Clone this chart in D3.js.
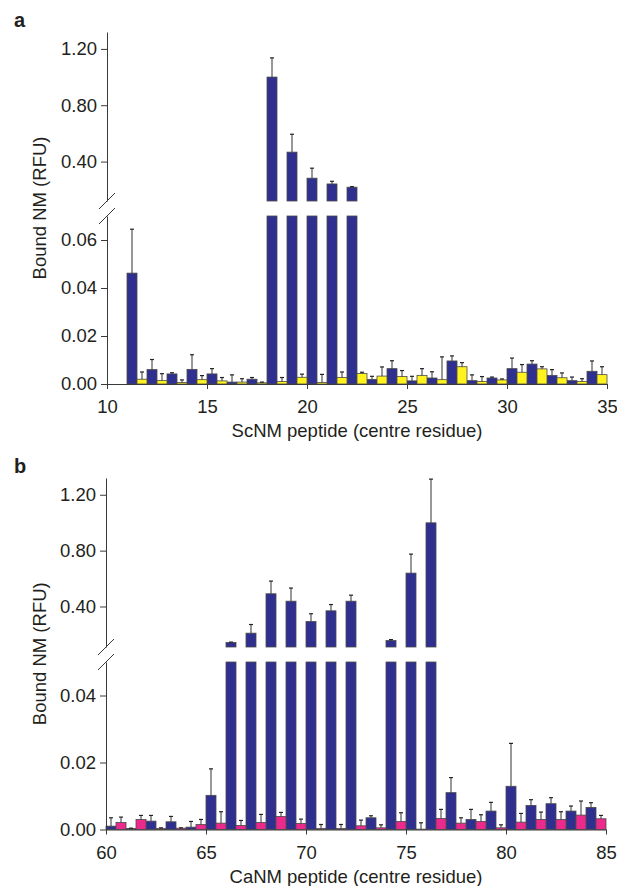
<!DOCTYPE html>
<html>
<head>
<meta charset="utf-8">
<script src="https://cdn.jsdelivr.net/npm/d3@7"></script>
<style>
body { margin: 0; background: #fff; }
text { font-family: "Liberation Sans", Arial, sans-serif; fill: #231f20; }
</style>
</head>
<body>
<div id="chart-area"></div>
<script>
// ---- panel a: ScNM peptides ----
var scResidues = [11, 12, 13, 14, 15, 16, 17, 18, 19, 20, 21, 22, 23, 24, 25, 26, 27, 28, 29, 30, 31, 32, 33, 34];
var scBlue = [0.0462, 0.0060, 0.0042, 0.0061, 0.0042, 0.0008, 0.0020, 1.00, 0.467, 0.282, 0.241, 0.218,
              0.0019, 0.0064, 0.0013, 0.0025, 0.0096, 0.0014, 0.0025, 0.0064, 0.0083, 0.0036, 0.0014, 0.0053];
var scBlueErr = [0.0183, 0.0042, 0.0005, 0.0061, 0.0022, 0.0030, 0.0007, 0.136, 0.127, 0.071, 0.019, 0.004,
                 0.0013, 0.0033, 0.0019, 0.0026, 0.0021, 0.0024, 0.0004, 0.0044, 0.0014, 0.0024, 0.0015, 0.0043];
var scYellow = [0.0020, 0.0014, 0.0006, 0.0018, 0.0013, 0.0008, 0.0005, 0.0010, 0.0028, 0.0006, 0.0027, 0.0044,
                0.0033, 0.0031, 0.0036, 0.0018, 0.0072, 0.0010, 0.0017, 0.0049, 0.0063, 0.0026, 0.0010, 0.0039];
var scYellowErr = [0.0030, 0.0029, 0.0011, 0.0017, 0.0014, 0.0014, 0.0003, 0.0017, 0.0013, 0.0034, 0.0023, 0.0005,
                   0.0038, 0.0025, 0.0028, 0.0095, 0.0017, 0.0021, 0.0004, 0.0032, 0.0009, 0.0020, 0.0012, 0.0033];
var scXTicks = [10, 15, 20, 25, 30, 35];
var scLowTicks = [0, 0.02, 0.04, 0.06];

// ---- panel b: CaNM peptides ----
var caResidues = [60, 61, 62, 63, 64, 65, 66, 67, 68, 69, 70, 71, 72, 73, 74, 75, 76, 77, 78, 79, 80, 81, 82, 83, 84];
var caBlue = [0.0010, 0.0003, 0.0025, 0.0023, 0.0007, 0.0102, 0.142, 0.209, 0.491, 0.438, 0.292, 0.369, 0.438,
              0.0035, 0.156, 0.639, 0.999, 0.0110, 0.0030, 0.0055, 0.0129, 0.0072, 0.0077, 0.0055, 0.0066];
var caBlueErr = [0.0025, 0.0001, 0.0017, 0.0016, 0.0017, 0.0079, 0.003, 0.062, 0.091, 0.094, 0.056, 0.045, 0.043,
                 0.0006, 0.007, 0.136, 0.313, 0.0045, 0.0030, 0.0026, 0.0128, 0.0017, 0.0018, 0.0015, 0.0014];
var caPink = [0.0021, 0.0030, 0.0003, 0.0004, 0.0015, 0.0019, 0.0012, 0.0021, 0.0039, 0.0018, 0.0003, 0.0003, 0.0011,
              0.0005, 0.0024, 0.0001, 0.0033, 0.0019, 0.0024, 0.0005, 0.0022, 0.0030, 0.0030, 0.0043, 0.0032];
var caPinkErr = [0.0016, 0.0012, 0.0002, 0.0001, 0.0015, 0.0034, 0.0015, 0.0024, 0.0012, 0.0013, 0.0012, 0.0012, 0.0017,
                 0.0009, 0.0026, 0.0019, 0.0027, 0.0016, 0.0020, 0.0009, 0.0026, 0.0022, 0.0023, 0.0042, 0.0010];
var caXTicks = [60, 65, 70, 75, 80, 85];
var caLowTicks = [0, 0.02, 0.04];

var highTicks = [0.40, 0.80, 1.20];
var yLabel = "Bound NM (RFU)";

var width = 617;
var height = 886;

var svg = d3.select('#chart-area')
    .append('svg')
        .attr('width', width)
        .attr('height', height);

function drawPanel(p) {
    var g = svg.append("g");

    var x = d3.scaleLinear()
        .domain(p.xDomain)
        .range([p.left, p.left + 500]);

    var yLow = d3.scaleLinear()
        .domain([0, p.lowMax])
        .range([p.base, p.lowTop]);

    var yHigh = d3.scaleLinear()
        .domain([p.highMin, 1.32])
        .range([p.highBottom, p.top]);

    var bw = x(p.xDomain[0] + 0.5) - x(p.xDomain[0]);

    p.series.forEach((s) => {
        var rows = p.residues.map((r, i) => {
            return {r: r, v: s.values[i], e: s.errors[i]};
        });
        var sg = g.append("g");

        // part of the bar under the break
        sg.selectAll("rect.low").data(rows)
            .enter().append("rect")
            .attr("class", "low")
            .attr("x", (d) => { return x(d.r + s.offset); })
            .attr("y", (d) => { return yLow(Math.min(d.v, p.lowMax)); })
            .attr("width", bw)
            .attr("height", (d) => { return p.base - yLow(Math.min(d.v, p.lowMax)); })
            .attr("fill", s.color)
            .attr("stroke", "#4a4a4a")
            .attr("stroke-width", 0.8);

        // part above the break
        var tall = rows.filter((d) => { return d.v > p.lowMax; });
        sg.selectAll("rect.high").data(tall)
            .enter().append("rect")
            .attr("class", "high")
            .attr("x", (d) => { return x(d.r + s.offset); })
            .attr("y", (d) => { return yHigh(d.v); })
            .attr("width", bw)
            .attr("height", (d) => { return p.highBottom - yHigh(d.v); })
            .attr("fill", s.color)
            .attr("stroke", "#4a4a4a")
            .attr("stroke-width", 0.8);

        // error bars
        var ys = (d) => { return d.v > p.lowMax ? yHigh : yLow; };
        var cx = (d) => { return x(d.r + s.offset) + bw / 2; };
        sg.selectAll("line.err").data(rows)
            .enter().append("line")
            .attr("class", "err")
            .attr("x1", cx).attr("x2", cx)
            .attr("y1", (d) => { return ys(d)(d.v); })
            .attr("y2", (d) => { return ys(d)(d.v + d.e); })
            .attr("stroke", "#333")
            .attr("stroke-width", 1);
        sg.selectAll("line.cap").data(rows)
            .enter().append("line")
            .attr("class", "cap")
            .attr("x1", (d) => { return cx(d) - 2; })
            .attr("x2", (d) => { return cx(d) + 2; })
            .attr("y1", (d) => { return ys(d)(d.v + d.e); })
            .attr("y2", (d) => { return ys(d)(d.v + d.e); })
            .attr("stroke", "#222")
            .attr("stroke-width", 1.2);
    });

    var fmt = d3.format(".2f");

    g.append("g")
        .attr("class", "left axis")
        .attr("transform", "translate(" + p.left + ", 0)")
        .call(d3.axisLeft(yHigh).tickValues(highTicks).tickFormat(fmt)
            .tickSize(6).tickPadding(4).tickSizeOuter(0));

    g.append("g")
        .attr("class", "left axis")
        .attr("transform", "translate(" + p.left + ", 0)")
        .call(d3.axisLeft(yLow).tickValues(p.lowTicks).tickFormat(fmt)
            .tickSize(6).tickPadding(4).tickSizeOuter(0));

    g.append("g")
        .attr("class", "bottom axis")
        .attr("transform", "translate(0, " + p.base + ")")
        .call(d3.axisBottom(x).tickValues(p.xTicks).tickFormat(d3.format("d"))
            .tickSize(5).tickPadding(11).tickSizeOuter(0));

    g.selectAll(".axis text")
        .attr("font-size", "18.5px")
        .attr("font-family", "'Liberation Sans', Arial, sans-serif")
        .attr("fill", "#231f20");
    g.selectAll(".axis path, .axis line")
        .attr("stroke", "#3a3a3a");

    // break marks on the y axis
    [p.highBottom, p.lowTop].forEach((yy) => {
        g.append("line")
            .attr("x1", p.left - 8).attr("y1", yy + 8)
            .attr("x2", p.left + 8).attr("y2", yy - 8)
            .attr("stroke", "#3a3a3a")
            .attr("stroke-width", 1);
    });

    g.append("text")
        .attr("x", 14)
        .attr("y", p.top - 5)
        .attr("font-size", "20px")
        .attr("font-weight", "bold")
        .text(p.letter);

    g.append("text")
        .attr("class", "x axis-label")
        .attr("x", p.left + 250)
        .attr("y", p.base + 53)
        .attr("font-size", "18.5px")
        .attr("text-anchor", "middle")
        .text(p.xLabel);

    g.append("text")
        .attr("class", "y axis-label")
        .attr("x", - ((p.top + p.base) / 2))
        .attr("y", 46)
        .attr("font-size", "18.5px")
        .attr("text-anchor", "middle")
        .attr("transform", "rotate(-90)")
        .text(yLabel);
}

drawPanel({
    letter: "a",
    left: 107, base: 384, lowTop: 216, highBottom: 201, top: 32,
    lowMax: 0.07, highMin: 0.12,
    xDomain: [10, 35],
    residues: scResidues,
    series: [
        {values: scBlue, errors: scBlueErr, color: "#2f2f8f", offset: 0},
        {values: scYellow, errors: scYellowErr, color: "#fff21f", offset: 0.5}
    ],
    xTicks: scXTicks,
    lowTicks: scLowTicks,
    xLabel: "ScNM peptide (centre residue)"
});

drawPanel({
    letter: "b",
    left: 106, base: 829.5, lowTop: 662, highBottom: 647, top: 478,
    lowMax: 0.05, highMin: 0.11,
    xDomain: [60, 85],
    residues: caResidues,
    series: [
        {values: caBlue, errors: caBlueErr, color: "#2f2f8f", offset: 0},
        {values: caPink, errors: caPinkErr, color: "#ec2a8e", offset: 0.5}
    ],
    xTicks: caXTicks,
    lowTicks: caLowTicks,
    xLabel: "CaNM peptide (centre residue)"
});
</script>
</body>
</html>
